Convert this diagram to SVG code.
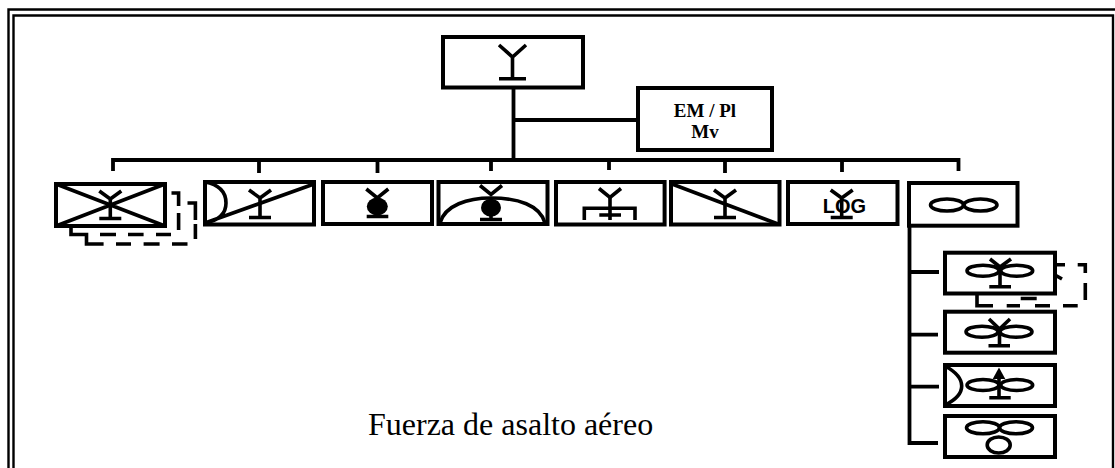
<svg xmlns="http://www.w3.org/2000/svg" width="1115" height="468" viewBox="0 0 1115 468">
<style>
.l{fill:none;stroke:#000;stroke-width:3.6}
.b{fill:#fff;stroke:#000;stroke-width:4}
.f{fill:none;stroke:#000;stroke-width:2.4}
.c{fill:none;stroke:#000;stroke-width:3.8}
.s{fill:#000;stroke:none}
.d{fill:none;stroke:#000;stroke-width:3.6}
.t{font-family:'Liberation Serif',serif;font-weight:bold;font-size:19px;text-anchor:middle}
</style>
<defs>
<path id="y" d="M-11,-8 L0,0 L11,-8 M0,0 V19 M-11,19.500 H11" class="l"/>
<path id="v" d="M-11,-9 L0,0 L11,-9" class="l"/>
</defs>
<rect width="1115" height="468" fill="#fff"/>
<g id="frame">
<path class="f" d="M8.500,468 V9.500 H1115"/>
<path class="f" d="M13.500,468 V15.500 H1113 V468"/>
</g>
<g id="connectors">
<path class="c" d="M513.500,88 V160 M513.500,120 H638 M113,171 V160 H958.500 V171 M259,160 V173 M377.500,160 V173 M491,160 V171 M609,158 V170 M725,160 V173 M842,160 V172"/>
<path class="c" d="M909.500,226 V443 H938 M909.500,272 H939 M909.500,334.700 H938 M909.500,386.700 H939"/>
</g>
<g id="n-cmd">
<rect class="b" x="443" y="37" width="140" height="50.500"/>
<path class="l" d="M499,45 L512.500,57 L526,45 M512.500,57 V78 M499,78.700 H526"/>
</g>
<g id="n-em">
<rect class="b" x="638" y="88" width="134" height="62"/>
<text class="t" x="705" y="117">EM / Pl</text>
<text class="t" x="705" y="138">Mv</text>
</g>
<g id="n-1">
<path class="d" d="M71,226 V234.500 H86.500 V244 H103.600 M116,244 H131 M143.600,244 H159.600 M172,244 H187.500 M100,234.500 H116 M128,234.500 H143.600 M156,234.500 H171 M195.400,239 V224 M195.400,220 V203 H187.500 M178.600,230 V213 M178.600,206 V193 H171.500"/>
<rect class="b" x="56" y="184" width="109" height="42"/>
<path class="l" d="M56,184 L165,226 M56,226 L165,184"/>
<use href="#y" x="110.300" y="199"/>
</g>
<g id="n-2">
<rect class="b" x="205" y="182" width="109" height="42.500"/>
<path class="l" d="M205,182 Q226,186 226,203 Q226,219 205,223 L314,184"/>
<use href="#y" x="260" y="198"/>
</g>
<g id="n-3">
<rect class="b" x="323" y="182" width="109" height="42"/>
<use href="#v" x="377.300" y="198"/>
<ellipse class="s" cx="377.300" cy="206.500" rx="10.500" ry="9"/>
<path class="l" d="M366.700,216.500 H388.300 M377.300,212 V216"/>
</g>
<g id="n-4">
<rect class="b" x="438.500" y="182" width="109" height="42"/>
<use href="#v" x="491" y="194.500"/>
<path class="l" d="M440,223 C445,205 468,198 491,198 C518,198 540,205 545,223"/>
<ellipse class="s" cx="491" cy="207.700" rx="10" ry="9"/>
<path class="l" d="M480,219.500 H502 M491,215 V219" stroke-width="4"/>
</g>
<g id="n-5">
<rect class="b" x="556" y="182" width="108.600" height="42.500"/>
<use href="#v" x="610" y="197.500"/>
<path class="l" d="M610,196 V220 M599.300,215 H621 M584.300,220 V208.300 H635 V220"/>
</g>
<g id="n-6">
<rect class="b" x="671" y="182" width="108.500" height="42.500"/>
<path class="l" d="M672,184 L778,224"/>
<use href="#y" x="725" y="198"/>
</g>
<g id="n-7">
<rect class="b" x="788" y="182" width="109.500" height="42"/>
<use href="#y" x="841.700" y="198"/>
<text x="844.500" y="213" text-anchor="middle" font-family="'Liberation Sans',sans-serif" font-weight="bold" font-size="20">LOG</text>
</g>
<g id="n-8">
<rect class="b" x="909" y="183" width="108.500" height="42.700"/>
<ellipse class="l" cx="947" cy="205" rx="16.500" ry="6"/>
<ellipse class="l" cx="980.500" cy="205" rx="16.500" ry="6"/>
</g>
<g id="n-a">
<path class="d" d="M977,293 V305.700 H993 M1006.700,305.700 H1020 M1035,305.700 H1050 M1063,305.700 H1077.700 M1085.300,300 V283 M1085.300,273 V264.700 H1077.700 M1055,264.700 H1065 M1055,275 L1062,279 M1020.700,298.500 H1036.700"/>
<rect class="b" x="945" y="252.700" width="110" height="40.800"/>
<ellipse class="l" cx="983" cy="270.700" rx="16" ry="5.500"/>
<ellipse class="l" cx="1016.700" cy="270.700" rx="16" ry="5.500"/>
<path class="l" d="M990,259 L1000,267 L1011,259 M1000,267 V286 M989.300,286.700 H1011"/>
</g>
<g id="n-b">
<rect class="b" x="945" y="311.700" width="110" height="41"/>
<ellipse class="l" cx="982" cy="331.700" rx="16" ry="5.500"/>
<ellipse class="l" cx="1016" cy="331.700" rx="16" ry="5.500"/>
<path class="l" d="M989,319 L999.500,329 L1010,319 M999.500,329 V345 M988.500,345.700 H1010"/>
</g>
<g id="n-c">
<rect class="b" x="945" y="365" width="110" height="41"/>
<path class="l" d="M945,366 Q961.700,375 961.700,386 Q961.700,397 945,405"/>
<ellipse class="l" cx="983" cy="385" rx="16" ry="5.500"/>
<ellipse class="l" cx="1016.700" cy="385" rx="16" ry="5.500"/>
<path class="s" d="M999,367.500 L1005.300,379 H992.700 Z"/>
<path class="l" d="M999,378 V397 M989.300,397.700 H1010.700"/>
</g>
<g id="n-d">
<rect class="b" x="945" y="416" width="110" height="41"/>
<ellipse class="l" cx="983" cy="427.700" rx="16.500" ry="6"/>
<ellipse class="l" cx="1016" cy="427.700" rx="16.500" ry="6"/>
<ellipse class="l" cx="998.700" cy="445" rx="11.500" ry="8"/>
</g>
<text id="title" x="368" y="435" font-family="'Liberation Serif',serif" font-size="32">Fuerza de asalto aéreo</text>
</svg>
